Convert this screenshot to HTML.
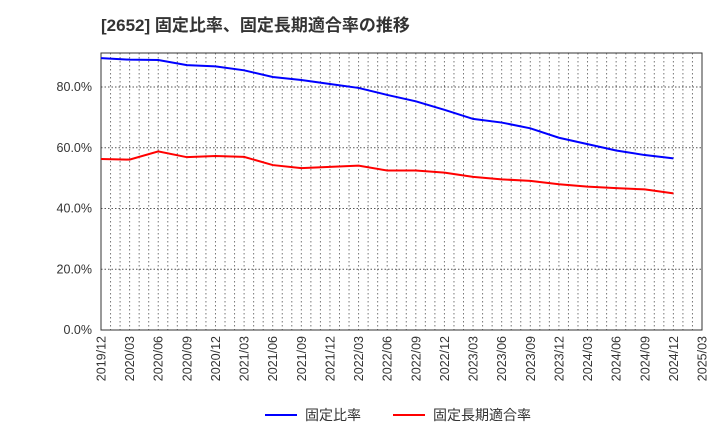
<!DOCTYPE html>
<html><head><meta charset="utf-8"><style>
body{margin:0;background:#fff;font-family:"Liberation Sans","Noto Sans CJK JP",sans-serif;}
</style></head><body>
<svg id="c" width="720" height="440" xmlns="http://www.w3.org/2000/svg">
<text x="101" y="31" font-size="17" font-weight="bold" fill="#333">[2652]  固定比率、固定長期適合率の推移</text>
<g id="grid"></g><g id="axes"></g><g id="series"></g>
<g>
<line x1="265" y1="415" x2="297" y2="415" stroke="#0000ff" stroke-width="2"/>
<text x="305" y="420" font-size="14" fill="#333">固定比率</text>
<line x1="393" y1="415" x2="425" y2="415" stroke="#ff0000" stroke-width="2"/>
<text x="433" y="420" font-size="14" fill="#333">固定長期適合率</text>
</g>
</svg>
<script>
const xLabels=["2019/12","2020/03","2020/06","2020/09","2020/12","2021/03","2021/06","2021/09","2021/12","2022/03","2022/06","2022/09","2022/12","2023/03","2023/06","2023/09","2023/12","2024/03","2024/06","2024/09","2024/12","2025/03"];
const yTicks=[0,20,40,60,80];
const fixedRatio=[89.5,89.0,88.9,87.2,86.8,85.5,83.3,82.3,81.0,79.7,77.4,75.3,72.5,69.5,68.3,66.4,63.3,61.2,59.1,57.6,56.5];
const fixedLongTerm=[56.3,56.1,58.8,56.9,57.3,57.0,54.3,53.3,53.7,54.1,52.5,52.5,51.8,50.4,49.6,49.1,48.0,47.2,46.7,46.3,45.0];
const L=101,R=702,T=53,B=330,yMax=91.2;
const NS="http://www.w3.org/2000/svg";
const xs=i=>L+i*(R-L)/(xLabels.length-1);
const ys=v=>B-v/yMax*(B-T);
function mk(tag,attrs,parent){const e=document.createElementNS(NS,tag);for(const k in attrs)e.setAttribute(k,attrs[k]);document.getElementById(parent).appendChild(e);return e;}
const nMonths=(xLabels.length-1)*3;
for(let m=1;m<nMonths;m++){const x=L+m*(R-L)/nMonths;
const g=mk('line',{x1:x,y1:T,x2:x,y2:B,stroke:'#777','stroke-dasharray':'1.5,2.5','stroke-width':1},'grid');

}
yTicks.forEach(v=>{const y=ys(v);
if(v>0){const g=mk('line',{x1:L,y1:y,x2:R,y2:y,stroke:'#555','stroke-dasharray':'1.5,2','stroke-width':1},'grid');

}
const t=mk('text',{x:L-9,y:y+4,'text-anchor':'end','font-size':12.5,fill:'#333'},'axes');t.textContent=v.toFixed(1)+'%';

});
const fr=mk('rect',{x:L,y:T,width:R-L,height:B-T,fill:'none',stroke:'#333','stroke-width':1},'axes');


xLabels.forEach((s,i)=>{const x=xs(i);const t=mk('text',{x:x+4.5,y:B+6,'text-anchor':'end','font-size':12.5,fill:'#333',transform:`rotate(-90 ${x+4.5} ${B+6})`},'axes');t.textContent=s;

});
function line(arr,col,name){const p=mk('polyline',{points:arr.map((v,i)=>xs(i)+','+ys(v)).join(' '),fill:'none',stroke:col,'stroke-width':2},'series');

}
line(fixedRatio,'#0000ff','fixed-ratio-line');
line(fixedLongTerm,'#ff0000','fixed-long-term-ratio-line');
</script>
</body></html>
